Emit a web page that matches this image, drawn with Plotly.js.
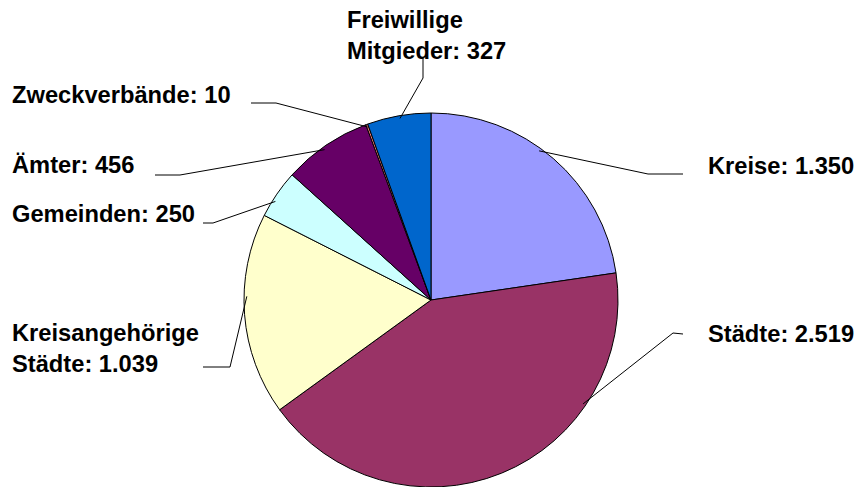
<!DOCTYPE html>
<html>
<head>
<meta charset="utf-8">
<script src="https://cdn.plot.ly/plotly-3.0.1.min.js"></script>
<style>html,body{margin:0;padding:0;background:#fff;}#chart{width:860px;height:487px;}</style>
</head>
<body>
<div id="chart"></div>
<script>
// ---- data ----
var categories = ["Kreise", "Städte", "Kreisangehörige<br>Städte", "Gemeinden", "Ämter", "Zweckverbände", "Freiwillige<br>Mitgieder"];
var values = [1350, 2519, 1039, 250, 456, 10, 327];
var colors = ["#9999FF", "#993366", "#FFFFCC", "#CCFFFF", "#660066", "#FF8080", "#0066CC"];

// ---- layout config (pixel positions of labels / leader elbows) ----
var W = 860, H = 487;
var cx = 431, cy = 300, R = 187;
var labelCfg = [
  {x: 706, b1: 174, b2: 174, frac: 0.44, elbow: [648, 174], end: [683, 174]},
  {x: 706, b1: 342, b2: 342, frac: 0.28, elbow: [673, 333], end: [683, 334]},
  {x: 10,  b1: 342, b2: 370, frac: 0.59, elbow: [230, 367], end: [203, 367]},
  {x: 10,  b1: 222, b2: 222, frac: 0.36, elbow: [213, 223], end: [203, 223]},
  {x: 10,  b1: 173, b2: 173, frac: 0.46, elbow: [180, 175], end: [155, 175]},
  {x: 10,  b1: 103, b2: 103, frac: 0.5,  elbow: [276, 103], end: [251, 103]},
  {x: 345, b1: 29,  b2: 58,  frac: 0.51, elbow: [423, 78],  end: [423, 57]}
];

function fmt(v) { return String(v).replace(/\B(?=(\d{3})+(?!\d))/g, "."); }
function px(x) { return x / W; }
function py(y) { return 1 - y / H; }

var total = values.reduce(function(a, b) { return a + b; }, 0);
var annotations = [], shapes = [];
var acc = 0;
values.forEach(function(v, i) {
  var a0 = acc / total * 360, a1 = (acc + v) / total * 360;
  acc += v;
  var c = labelCfg[i];
  var th = (a0 + (a1 - a0) * c.frac) * Math.PI / 180;
  var rr = 0.985 * R;
  var sx = cx + rr * Math.sin(th), sy = cy - rr * Math.cos(th);
  shapes.push({
    type: "path", xref: "paper", yref: "paper",
    path: "M " + px(sx) + " " + py(sy) + " L " + px(c.elbow[0]) + " " + py(c.elbow[1]) + " L " + px(c.end[0]) + " " + py(c.end[1]),
    line: {color: "#000", width: 1}
  });
  annotations.push({
    xref: "paper", yref: "paper", x: px(c.x), y: py((c.b1 + c.b2) / 2 - 8),
    xanchor: "left", yanchor: "middle", align: "left", showarrow: false,
    text: categories[i] + ": " + fmt(v),
    font: {family: "Arial, 'Liberation Sans', sans-serif", size: 23.7, color: "#000", weight: "bold"}
  });
});

var trace = {
  type: "pie",
  values: values,
  labels: categories,
  marker: {colors: colors, line: {color: "#000", width: 1}},
  sort: false,
  direction: "clockwise",
  rotation: 0,
  textinfo: "none",
  textposition: "none",
  hoverinfo: "label+value",
  domain: {x: [px(cx - R), px(cx + R)], y: [Math.max(0, py(cy + R)), py(cy - R)]}
};

var layout = {
  width: W, height: H,
  margin: {l: 0, r: 0, t: 0, b: 0},
  paper_bgcolor: "#fff",
  showlegend: false,
  annotations: annotations,
  shapes: shapes
};

Plotly.newPlot("chart", [trace], layout, {displayModeBar: false, staticPlot: true});
</script>
</body>
</html>
